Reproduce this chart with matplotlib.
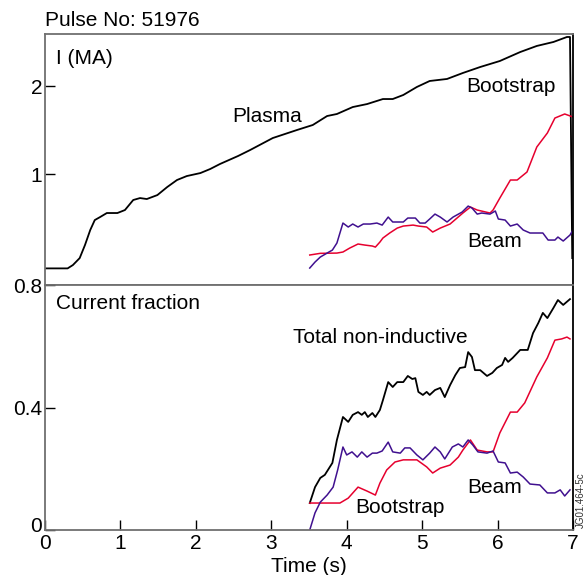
import matplotlib

matplotlib.use("Agg")
import matplotlib.pyplot as plt
import matplotlib.transforms as mtransforms

plt.rcParams["font.family"] = ["Liberation Sans", "DejaVu Sans"]

RED = "#e6002e"
PURPLE = "#40108f"
FRAME = "#707070"
FS = 15

# Plasma current (MA)
plasma_t = [0.0, 0.30, 0.37, 0.46, 0.53, 0.60, 0.66, 0.73, 0.82, 0.96, 1.06, 1.17,
            1.26, 1.35, 1.49, 1.62, 1.75, 1.88, 2.06, 2.19, 2.32, 2.56, 2.72, 3.02,
            3.34, 3.55, 3.74, 3.87, 4.08, 4.27, 4.48, 4.61, 4.75, 4.93, 5.10, 5.33,
            5.54, 5.77, 6.03, 6.30, 6.52, 6.74, 6.92, 6.96, 6.99]
plasma_i = [-0.072, -0.072, -0.034, 0.045, 0.193, 0.364, 0.477, 0.511, 0.557, 0.557,
            0.591, 0.705, 0.727, 0.716, 0.761, 0.852, 0.932, 0.977, 1.011, 1.057,
            1.114, 1.205, 1.273, 1.409, 1.500, 1.557, 1.659, 1.682, 1.761, 1.795,
            1.852, 1.852, 1.898, 1.989, 2.057, 2.080, 2.148, 2.216, 2.284, 2.386,
            2.455, 2.500, 2.557, 2.557, 0.045]

# Bootstrap current (MA)
boot_t = [3.51, 3.65, 3.87, 3.95, 4.04, 4.15, 4.24, 4.34, 4.38, 4.44, 4.48, 4.57,
          4.67, 4.75, 4.88, 4.95, 5.06, 5.14, 5.24, 5.37, 5.54, 5.64, 5.73, 5.90,
          5.94, 6.03, 6.17, 6.26, 6.39, 6.52, 6.66, 6.76, 6.89, 7.0]
boot_i = [0.080, 0.099, 0.102, 0.114, 0.159, 0.205, 0.193, 0.182, 0.170, 0.227,
          0.273, 0.330, 0.386, 0.409, 0.420, 0.409, 0.398, 0.341, 0.386, 0.432,
          0.557, 0.625, 0.591, 0.557, 0.591, 0.727, 0.932, 0.932, 1.023, 1.307,
          1.466, 1.636, 1.682, 1.648]

# Beam driven current (MA)
beam_t = [3.51, 3.58, 3.65, 3.74, 3.81, 3.87, 3.95, 4.02, 4.08, 4.15, 4.22, 4.31,
          4.40, 4.47, 4.55, 4.61, 4.75, 4.81, 4.91, 4.97, 5.04, 5.10, 5.17, 5.24,
          5.33, 5.41, 5.53, 5.61, 5.66, 5.73, 5.79, 5.90, 5.97, 6.01, 6.10, 6.17,
          6.26, 6.34, 6.43, 6.60, 6.67, 6.76, 6.80, 6.87, 6.96, 7.0]
beam_i = [-0.068, 0.000, 0.057, 0.102, 0.136, 0.216, 0.443, 0.398, 0.432, 0.398,
          0.432, 0.432, 0.443, 0.420, 0.511, 0.455, 0.455, 0.500, 0.500, 0.443,
          0.443, 0.489, 0.545, 0.511, 0.455, 0.511, 0.568, 0.636, 0.614, 0.545,
          0.557, 0.545, 0.580, 0.489, 0.477, 0.409, 0.432, 0.364, 0.330, 0.330,
          0.250, 0.250, 0.284, 0.239, 0.307, 0.364]

# Current fractions
total_frac_t = [3.51, 3.58, 3.65, 3.71, 3.81, 3.87, 3.95, 4.02, 4.08, 4.15, 4.20,
                4.24, 4.28, 4.34, 4.38, 4.44, 4.48, 4.55, 4.61, 4.67, 4.75, 4.81,
                4.87, 4.91, 4.95, 5.01, 5.06, 5.10, 5.17, 5.24, 5.30, 5.37, 5.44,
                5.50, 5.57, 5.61, 5.66, 5.70, 5.77, 5.86, 5.93, 5.99, 6.06, 6.10,
                6.14, 6.20, 6.30, 6.40, 6.47, 6.54, 6.60, 6.66, 6.74, 6.80, 6.87, 6.96]
total_frac = [0.088, 0.140, 0.170, 0.180, 0.219, 0.294, 0.369, 0.353, 0.376, 0.385,
              0.376, 0.385, 0.369, 0.382, 0.369, 0.392, 0.424, 0.483, 0.467, 0.483,
              0.483, 0.503, 0.493, 0.496, 0.451, 0.441, 0.451, 0.441, 0.457, 0.464,
              0.434, 0.473, 0.506, 0.529, 0.532, 0.581, 0.565, 0.522, 0.522, 0.503,
              0.513, 0.529, 0.539, 0.562, 0.549, 0.562, 0.588, 0.588, 0.643, 0.676,
              0.709, 0.692, 0.725, 0.751, 0.735, 0.754]

boot_frac_t = [3.51, 3.65, 3.91, 4.02, 4.15, 4.27, 4.38, 4.44, 4.53, 4.64, 4.75,
               4.93, 5.06, 5.14, 5.24, 5.37, 5.48, 5.54, 5.64, 5.73, 5.86, 5.94,
               6.03, 6.17, 6.26, 6.36, 6.52, 6.66, 6.76, 6.85, 6.92, 6.96]
boot_frac = [0.088, 0.088, 0.088, 0.104, 0.140, 0.127, 0.114, 0.153, 0.196, 0.222,
             0.229, 0.229, 0.206, 0.186, 0.202, 0.212, 0.238, 0.261, 0.294, 0.261,
             0.255, 0.255, 0.317, 0.385, 0.385, 0.415, 0.500, 0.562, 0.620, 0.624,
             0.630, 0.624]

beam_frac_t = [3.51, 3.58, 3.65, 3.74, 3.82, 3.88, 3.95, 4.00, 4.07, 4.14, 4.20,
               4.27, 4.34, 4.40, 4.47, 4.55, 4.61, 4.71, 4.77, 4.84, 4.93, 5.01,
               5.10, 5.17, 5.24, 5.30, 5.40, 5.48, 5.54, 5.61, 5.67, 5.74, 5.86,
               5.94, 6.01, 6.10, 6.17, 6.26, 6.34, 6.43, 6.56, 6.66, 6.76, 6.83,
               6.89, 6.96]
beam_frac = [0.000, 0.056, 0.091, 0.114, 0.140, 0.196, 0.271, 0.245, 0.255, 0.238,
             0.255, 0.238, 0.251, 0.251, 0.258, 0.287, 0.255, 0.251, 0.268, 0.268,
             0.245, 0.229, 0.251, 0.271, 0.255, 0.232, 0.271, 0.281, 0.271, 0.294,
             0.278, 0.255, 0.251, 0.258, 0.222, 0.219, 0.186, 0.189, 0.173, 0.150,
             0.147, 0.121, 0.121, 0.131, 0.111, 0.131]

x_ticks = [0, 1, 2, 3, 4, 5, 6, 7]


def style_axes(ax):
    for side in ("top", "left", "bottom"):
        ax.spines[side].set_color(FRAME)
        ax.spines[side].set_linewidth(1.3)
    ax.spines["right"].set_color("black")
    ax.spines["right"].set_linewidth(1.3)
    ax.tick_params(direction="in", length=7, width=1.0, color="black",
                   labelsize=FS, pad=2)
    ax.set_xlim(0, 7)


fig = plt.figure(figsize=(5.85, 5.75), dpi=100)
ax_top = fig.add_axes([0.0769, 0.5043, 0.9026, 0.4366])
ax_bot = fig.add_axes([0.0769, 0.0783, 0.9026, 0.4260])

# Upper panel: currents in MA
style_axes(ax_top)
ax_top.plot(plasma_t, plasma_i, color="black", lw=1.3)
ax_top.plot(boot_t, boot_i, color=RED, lw=1.1)
ax_top.plot(beam_t, beam_i, color=PURPLE, lw=1.1)
ax_top.set_ylim(-0.261, 2.591)
ax_top.set_yticks([1, 2])
ax_top.set_yticklabels(["1", "2"])
ax_top.set_xticks([])
ax_top.text(0.146, 2.318, "I (MA)", fontsize=FS, va="center")
ax_top.text(2.479, 1.648, "Plasma", fontsize=FS, va="center")
ax_top.text(5.581, 2.0, "Bootstrap", fontsize=FS, va="center")
ax_top.text(5.595, 0.239, "Beam", fontsize=FS, va="center")

# Lower panel: fractions of plasma current
style_axes(ax_bot)
ax_bot.plot(total_frac_t, total_frac, color="black", lw=1.3)
ax_bot.plot(boot_frac_t, boot_frac, color=RED, lw=1.1)
ax_bot.plot(beam_frac_t, beam_frac, color=PURPLE, lw=1.1)
ax_bot.set_ylim(0, 0.8)
ax_bot.set_yticks([0, 0.4, 0.8])
ax_bot.set_yticklabels(["0", "0.4", "0.8"])
ax_bot.set_xticks(x_ticks)
ax_bot.set_xticklabels([str(v) for v in x_ticks])
ax_bot.tick_params(axis="x", pad=3)
ax_bot.set_xlabel("Time (s)", fontsize=FS, labelpad=3)
ax_bot.text(0.146, 0.741, "Current fraction", fontsize=FS, va="center")
ax_bot.text(3.288, 0.630, "Total non-inductive", fontsize=FS, va="center")
ax_bot.text(5.595, 0.140, "Beam", fontsize=FS, va="center")
ax_bot.text(4.110, 0.075, "Bootstrap", fontsize=FS, va="center")

# lift the "0" y label a little so it clears the x tick label below it
zero_label = ax_bot.get_yticklabels()[0]
zero_label.set_transform(zero_label.get_transform()
                         + mtransforms.ScaledTranslation(0, 4 / 72, fig.dpi_scale_trans))

fig.text(45 / 585, 1 - 20 / 575, "Pulse No: 51976", fontsize=FS, va="center")
fig.text(581 / 585, 1 - 500 / 575, "JG01.464-5c", fontsize=7, rotation=90,
         ha="center", va="center", color="#333333")

fig.savefig("out.png", dpi=100)
